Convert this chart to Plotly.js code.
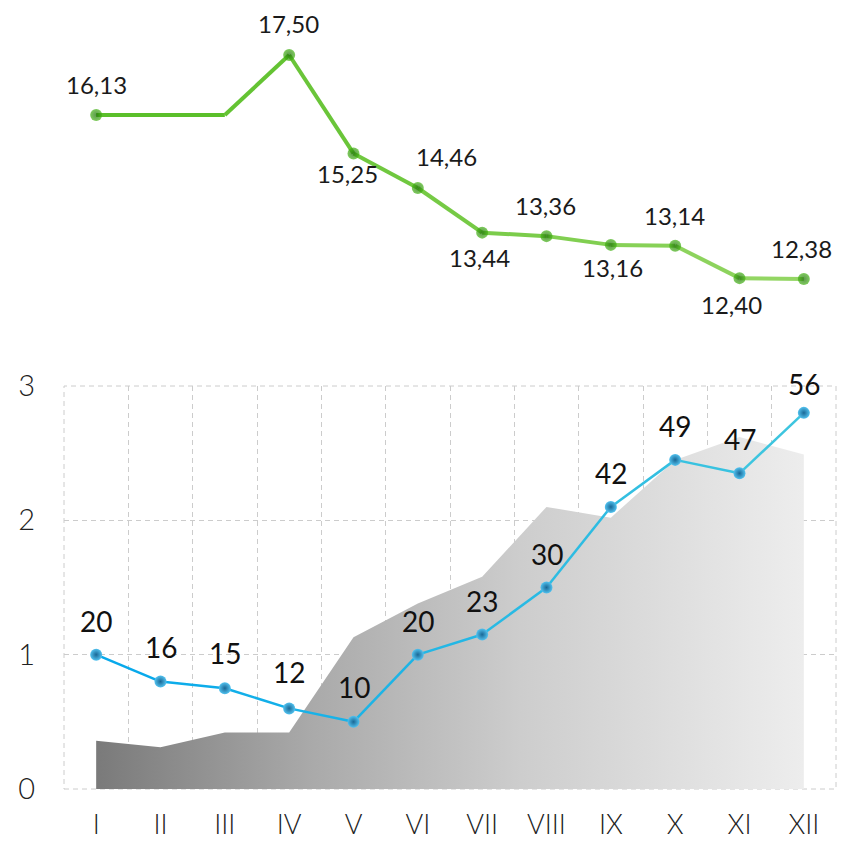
<!DOCTYPE html>
<html>
<head>
<meta charset="utf-8">
<script src="https://cdn.plot.ly/plotly-3.0.1.min.js"></script>
<style>html,body{margin:0;padding:0;background:#fff}</style>
</head>
<body>
<div id="chart" style="width:864px;height:842px"></div>
<script>
// ---- data ----
var months = ["I","II","III","IV","V","VI","VII","VIII","IX","X","XI","XII"];
var greenValues = [16.13, null, 16.13, 17.50, 15.25, 14.46, 13.44, 13.36, 13.16, 13.14, 12.40, 12.38];
var greenLabels = ["16,13", "", "", "17,50", "15,25", "14,46", "13,44", "13,36", "13,16", "13,14", "12,40", "12,38"];
var areaValues = [0.36, 0.31, 0.42, 0.42, 1.13, 1.38, 1.58, 2.10, 2.02, 2.45, 2.62, 2.49];
var blueValues = [1.00, 0.80, 0.75, 0.60, 0.50, 1.00, 1.15, 1.50, 2.10, 2.45, 2.35, 2.80];
var blueLabels = ["20", "16", "15", "12", "10", "20", "23", "30", "42", "49", "47", "56"];
var yTicks = [0, 1, 2, 3];

// ---- styles / positions of labels ----
var greenShiftY = [30.5, 0, 0, 31, -20, 31, -25, 31, -23, 30.5, -26, 31];
var greenShiftX = [0, 0, 0, -1, -6, 29, -3, -1, 2, -1, -8, -2];
var greenMarkerSize = [12, 0, 0, 12, 12, 12, 12, 12, 12, 12, 12, 12];
var blueShiftY = [34, 35, 35, 36, 34.5, 34, 34, 34, 34, 34, 34, 29];

var idx = months.map(function(_, i){ return i; });
var bounds = [];
for (var b = -0.5; b <= 11.5; b += 1) bounds.push(b);

function lerpColor(c1, c2, t) {
  var a = [parseInt(c1.substr(1,2),16), parseInt(c1.substr(3,2),16), parseInt(c1.substr(5,2),16)];
  var z = [parseInt(c2.substr(1,2),16), parseInt(c2.substr(3,2),16), parseInt(c2.substr(5,2),16)];
  return 'rgb(' + a.map(function(v,k){ return Math.round(v + (z[k]-v)*t); }).join(',') + ')';
}

function segmentTraces(values, xa, ya, c1, c2, width) {
  var pts = [];
  values.forEach(function(v, i){ if (v !== null) pts.push(i); });
  var out = [];
  for (var k = 0; k < pts.length - 1; k++) {
    var i0 = pts[k], i1 = pts[k+1];
    out.push({
      x: [i0, i1], y: [values[i0], values[i1]],
      xaxis: xa, yaxis: ya, type: 'scatter', mode: 'lines',
      line: {color: lerpColor(c1, c2, (i0 + i1) / 2 / 11), width: width},
      hoverinfo: 'skip'
    });
  }
  return out;
}

var traces = [];

// gray area
traces.push({
  x: idx, y: areaValues, xaxis: 'x', yaxis: 'y', type: 'scatter', mode: 'none',
  fill: 'tozeroy',
  fillgradient: {type: 'horizontal', colorscale: [[0,'#7a7a7a'],[0.3,'#a9a9a9'],[0.6,'#cdcdcd'],[1,'#ededed']]},
  hoverinfo: 'skip'
});

// blue line
traces = traces.concat(segmentTraces(blueValues, 'x', 'y', '#05a8ec', '#40c6de', 2.5));
traces.push({
  x: idx, y: blueValues, xaxis: 'x', yaxis: 'y', type: 'scatter', mode: 'markers',
  marker: {size: 12, color: '#52c2ef', gradient: {type: 'radial', color: '#1a6896'}, line: {width: 0}},
  hoverinfo: 'skip'
});

// green line
traces = traces.concat(segmentTraces(greenValues, 'x2', 'y2', '#55bd24', '#96d766', 4));
traces.push({
  x: idx, y: greenValues, xaxis: 'x2', yaxis: 'y2', type: 'scatter', mode: 'markers',
  marker: {size: greenMarkerSize, color: '#46b516', gradient: {type: 'radial', color: '#1a6a06'}, line: {width: 0}},
  hoverinfo: 'skip'
});

var annotations = [];
idx.forEach(function(i){
  if (greenLabels[i]) {
    annotations.push({
      x: i, y: greenValues[i], xref: 'x2', yref: 'y2', text: greenLabels[i], showarrow: false,
      xshift: greenShiftX[i], yshift: greenShiftY[i],
      font: {family: 'Lato, sans-serif', size: 24, weight: 400, color: '#1a1a1a'}
    });
  }
  annotations.push({
    x: i, y: blueValues[i], xref: 'x', yref: 'y', text: blueLabels[i], showarrow: false,
    yshift: blueShiftY[i],
    font: {family: 'Lato, sans-serif', size: 28, weight: 400, color: '#111111'}
  });
});

var W = 864, H = 842;
var xDomain = [64 / W, 836 / W];
var gridColor = '#cccccc';
var layout = {
  width: W, height: H,
  margin: {l: 0, r: 0, t: 0, b: 0},
  paper_bgcolor: '#ffffff', plot_bgcolor: 'rgba(0,0,0,0)',
  showlegend: false,
  xaxis: {
    domain: xDomain, range: [-0.5, 11.5], anchor: 'y',
    tickmode: 'array', tickvals: idx, ticktext: months,
    showgrid: false, zeroline: false, showline: false, ticks: '',
    ticklabelstandoff: 17,
    tickfont: {family: 'Lato, sans-serif', size: 27, weight: 300, color: '#222222'},
    minor: {tickmode: 'array', tickvals: bounds, showgrid: true, gridcolor: gridColor, griddash: '5px,4px', gridwidth: 1, ticks: ''}
  },
  yaxis: {
    domain: [(H - 789) / H, (H - 386) / H], range: [0, 3], anchor: 'x',
    tickmode: 'array', tickvals: yTicks,
    showgrid: true, gridcolor: gridColor, griddash: '5px,4px', gridwidth: 1,
    zeroline: false, showline: false, ticks: '',
    ticklabelstandoff: 28,
    tickfont: {family: 'Lato, sans-serif', size: 29, weight: 300, color: '#222222'}
  },
  xaxis2: {domain: xDomain, range: [-0.5, 11.5], anchor: 'y2', visible: false},
  yaxis2: {domain: [(H - 320) / H, (H - 20) / H], range: [11.443, 18.3], anchor: 'x2', visible: false},
  shapes: [{
    type: 'rect', xref: 'x domain', yref: 'y domain', x0: 0, x1: 1, y0: 0, y1: 1,
    line: {color: gridColor, width: 1, dash: '5px,4px'}, fillcolor: 'rgba(0,0,0,0)', layer: 'below'
  }],
  annotations: annotations
};

Plotly.newPlot('chart', traces, layout, {displayModeBar: false, staticPlot: true});
</script>
</body>
</html>
